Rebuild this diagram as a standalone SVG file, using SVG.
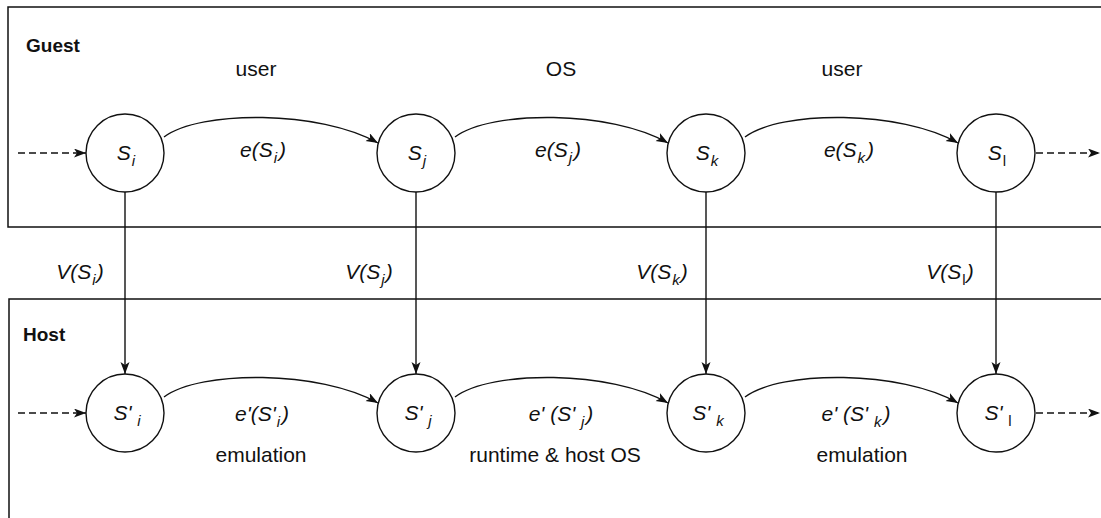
<svg xmlns="http://www.w3.org/2000/svg" width="1101" height="518" viewBox="0 0 1101 518">
<style>
  .box { fill: none; stroke: #111; stroke-width: 1.5; }
  .node { fill: #fff; stroke: #111; stroke-width: 1.4; }
  .edge { fill: none; stroke: #111; stroke-width: 1.4; }
  .dash { fill: none; stroke: #111; stroke-width: 1.4; stroke-dasharray: 7 4; }
  .t { font-family: "Liberation Sans", Arial, sans-serif; font-size: 21px; fill: #111; }
  .it { font-style: italic; }
  .b { font-weight: bold; font-size: 19px; }
  .sub { font-size: 15px; }
</style>
<defs>
  <marker id="ah" markerUnits="userSpaceOnUse" markerWidth="13" markerHeight="10" refX="12" refY="4.5" orient="auto">
    <path d="M0,0 L12,4.5 L0,9 L3,4.5 z" fill="#111"/>
  </marker>
</defs>
<rect width="1101" height="518" fill="#fff"/>
<g id="guest-box">
  <path class="box" d="M1105,7 H8 V227 H1105"/>
  <text class="t b" x="26" y="52">Guest</text>
  <text class="t" x="256" y="76" text-anchor="middle">user</text>
  <text class="t" x="561" y="76" text-anchor="middle">OS</text>
  <text class="t" x="842" y="76" text-anchor="middle">user</text>
</g>
<g id="host-box">
  <path class="box" d="M1105,299 H9 V525"/>
  <text class="t b" x="23" y="341">Host</text>
  <text class="t" x="261" y="462" text-anchor="middle">emulation</text>
  <text class="t" x="555" y="462" text-anchor="middle">runtime &amp; host OS</text>
  <text class="t" x="862" y="462" text-anchor="middle">emulation</text>
</g>
<g id="connectors">
  <path class="dash" d="M18,153 H86" marker-end="url(#ah)"/>
  <path class="dash" d="M1036,153 H1100" marker-end="url(#ah)"/>
  <path class="dash" d="M18,413 H86" marker-end="url(#ah)"/>
  <path class="dash" d="M1036,413 H1100" marker-end="url(#ah)"/>
  <path class="edge" d="M164,137 C200,110 320,110 378,143" marker-end="url(#ah)"/>
  <path class="edge" d="M455,137 C491,110 611,110 668,143" marker-end="url(#ah)"/>
  <path class="edge" d="M745,137 C781,110 901,110 958,143" marker-end="url(#ah)"/>
  <path class="edge" d="M164,397 C200,370 320,370 378,403" marker-end="url(#ah)"/>
  <path class="edge" d="M455,397 C491,370 611,370 668,403" marker-end="url(#ah)"/>
  <path class="edge" d="M745,397 C781,370 901,370 958,403" marker-end="url(#ah)"/>
  <path class="edge" d="M125,192 V374" marker-end="url(#ah)"/>
  <path class="edge" d="M416,192 V374" marker-end="url(#ah)"/>
  <path class="edge" d="M706,192 V374" marker-end="url(#ah)"/>
  <path class="edge" d="M996,192 V374" marker-end="url(#ah)"/>
  <text class="t it" x="263" y="157" text-anchor="middle">e(S<tspan class="sub" dx="1" dy="6">i</tspan><tspan dx="2" dy="-6">)</tspan></text>
  <text class="t it" x="558" y="157" text-anchor="middle">e(S<tspan class="sub" dx="1" dy="6">j</tspan><tspan dx="2" dy="-6">)</tspan></text>
  <text class="t it" x="849" y="157" text-anchor="middle">e(S<tspan class="sub" dx="1" dy="6">k</tspan><tspan dx="2" dy="-6">)</tspan></text>
  <text class="t it" x="80" y="279" text-anchor="middle">V(S<tspan class="sub" dx="1" dy="6">i</tspan><tspan dx="1" dy="-6">)</tspan></text>
  <text class="t it" x="369" y="279" text-anchor="middle">V(S<tspan class="sub" dx="1" dy="6">j</tspan><tspan dx="1" dy="-6">)</tspan></text>
  <text class="t it" x="662" y="279" text-anchor="middle">V(S<tspan class="sub" dx="1" dy="6">k</tspan><tspan dx="1" dy="-6">)</tspan></text>
  <text class="t it" x="950" y="279" text-anchor="middle">V(S<tspan class="sub" dx="1" dy="6" font-style="normal">l</tspan><tspan dx="1" dy="-6">)</tspan></text>
  <text class="t it" x="262" y="421" text-anchor="middle">e'(S'<tspan class="sub" dx="1" dy="6">i</tspan><tspan dx="2" dy="-6">)</tspan></text>
  <text class="t it" x="561" y="421" text-anchor="middle">e' (S' <tspan class="sub" dy="6">j</tspan><tspan dx="2" dy="-6">)</tspan></text>
  <text class="t it" x="856" y="421" text-anchor="middle">e' (S' <tspan class="sub" dy="6">k</tspan><tspan dx="2" dy="-6">)</tspan></text>
</g>
<g id="node-Si">
  <circle class="node" cx="125" cy="153" r="39"/>
  <text class="t it" x="126" y="160" text-anchor="middle">S<tspan class="sub" dx="1" dy="6">i</tspan></text>
</g>
<g id="node-Sj">
  <circle class="node" cx="416" cy="153" r="39"/>
  <text class="t it" x="417" y="160" text-anchor="middle">S<tspan class="sub" dx="1" dy="6">j</tspan></text>
</g>
<g id="node-Sk">
  <circle class="node" cx="706" cy="153" r="39"/>
  <text class="t it" x="707" y="160" text-anchor="middle">S<tspan class="sub" dx="1" dy="6">k</tspan></text>
</g>
<g id="node-Sl">
  <circle class="node" cx="996" cy="153" r="39"/>
  <text class="t it" x="997" y="160" text-anchor="middle">S<tspan class="sub" dx="1" dy="6" font-style="normal">l</tspan></text>
</g>
<g id="node-Spi">
  <circle class="node" cx="125" cy="413" r="39"/>
  <text class="t it" x="127" y="420" text-anchor="middle">S' <tspan class="sub" dy="6">i</tspan></text>
</g>
<g id="node-Spj">
  <circle class="node" cx="416" cy="413" r="39"/>
  <text class="t it" x="418" y="420" text-anchor="middle">S' <tspan class="sub" dy="6">j</tspan></text>
</g>
<g id="node-Spk">
  <circle class="node" cx="706" cy="413" r="39"/>
  <text class="t it" x="708" y="420" text-anchor="middle">S' <tspan class="sub" dy="6">k</tspan></text>
</g>
<g id="node-Spl">
  <circle class="node" cx="996" cy="413" r="39"/>
  <text class="t it" x="998" y="420" text-anchor="middle">S' <tspan class="sub" dy="6" font-style="normal">l</tspan></text>
</g>
</svg>
